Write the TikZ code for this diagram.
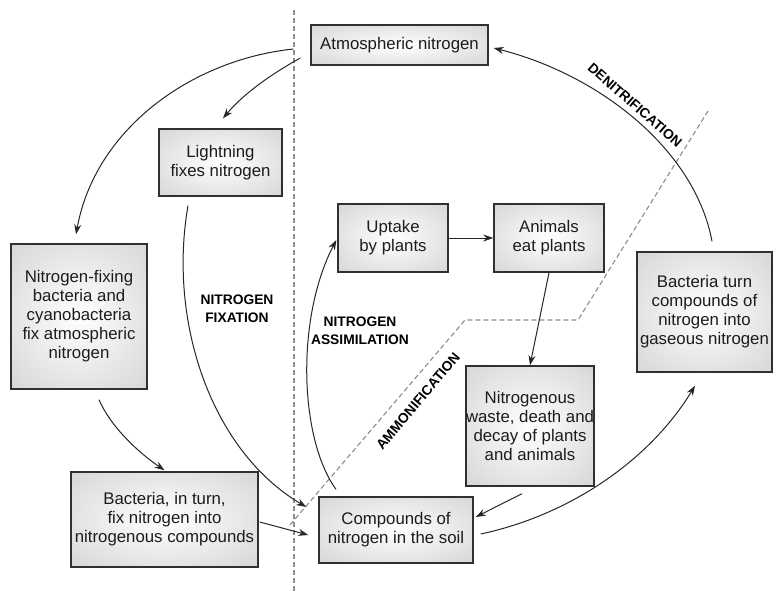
\documentclass[tikz,border=0pt]{standalone}
\usepackage{fontspec}
\setmainfont{Liberation Sans}
\usetikzlibrary{arrows.meta}
\definecolor{boxline}{HTML}{303030}
\definecolor{boxtext}{HTML}{1C1C1C}
\definecolor{shadeedge}{HTML}{C6C6C6}
\definecolor{shadecorner}{HTML}{B2B2B2}
\definecolor{sepgray}{HTML}{8C8C8C}
% soft radial fill for the boxes: white centre fading to grey at the rim
\pgfdeclareradialshading{boxshade}{\pgfpoint{0bp}{0bp}}{%
  color(0bp)=(white); color(50bp)=(shadeedge); color(71bp)=(shadecorner)}
\begin{document}
\begin{tikzpicture}[x=1pt,y=-1pt,
  box/.style={draw=boxline, line width=1.4pt, shading=boxshade,
    inner sep=0pt, align=center, text=boxtext,
    font=\fontsize{16.8}{19}\selectfont},
  arr/.style={line width=1pt, draw=black!85, -{Stealth[length=10pt,width=7pt]}},
  phase/.style={font=\bfseries\fontsize{13.8}{18}\selectfont, text=black, align=center, inner sep=0pt},
  sep/.style={draw=sepgray, line width=1.1pt, dash pattern=on 5pt off 3pt}]
\useasboundingbox (0,0) rectangle (774,591);

% separators
\draw[sep] (294,10) -- (294,591);
\draw[sep] (290,525) -- (465,320) -- (578,320) -- (708,111);

% boxes
\node[box, minimum width=177pt, minimum height=40pt] (atm) at (399.5,45) {Atmospheric nitrogen};
\node[box, minimum width=123pt, minimum height=67pt] (light) at (220.5,162.5) {Lightning\\fixes nitrogen};
\node[box, minimum width=136pt, minimum height=145pt] (nfix) at (79,316.5) {Nitrogen-fixing\\bacteria and\\cyanobacteria\\fix atmospheric\\nitrogen};
\node[box, minimum width=187pt, minimum height=95pt] (bact) at (164.5,519.5) {Bacteria, in turn,\\fix nitrogen into\\nitrogenous compounds};
\node[box, minimum width=154pt, minimum height=66pt] (comp) at (396,530) {Compounds of\\nitrogen in the soil};
\node[box, minimum width=110pt, minimum height=68pt] (uptake) at (393,238) {Uptake\\by plants};
\node[box, minimum width=110pt, minimum height=68pt] (animals) at (549,238) {Animals\\eat plants};
\node[box, minimum width=126pt, minimum height=120pt] (waste) at (530,426) {Nitrogenous\\waste, death and\\decay of plants\\and animals};
\node[box, minimum width=135pt, minimum height=120pt] (gas) at (704.5,312) {Bacteria turn\\compounds of\\nitrogen into\\gaseous nitrogen};

% connectors
\draw[arr] ([shift={(-17,4)}]atm.west) .. controls (190,60) and (95,130) .. ([shift={(-3,-9)}]nfix.north);
\draw[arr] ([shift={(-10,13)}]atm.west) .. controls (275,72) and (245,92) .. ([shift={(2.5,-10)}]light.north);
\draw[arr] ([shift={(-32.5,9)}]light.south) .. controls (168,320) and (210,450) .. ([shift={(-12,-23)}]comp.west);
\draw[arr] ([shift={(20,10)}]nfix.south) .. controls (110,425) and (135,450) .. ([shift={(0,-1)}]bact.north);
\draw[arr] ([shift={(1,2.5)}]bact.east) -- ([shift={(-10,5)}]comp.west);
\draw[arr] ([shift={(-60,-7)}]comp.north) .. controls (300,440) and (295,320) .. ([shift={(-1,2)}]uptake.west);
\draw[arr] (uptake.east) -- (animals.west);
\draw[arr] (animals.south) -- (waste.north);
\draw[arr] ([shift={(-8,7)}]waste.south) -- ([shift={(2,-13)}]comp.east);
\draw[arr] ([shift={(7,4)}]comp.east) .. controls (570,515) and (650,460) .. ([shift={(-9.5,13)}]gas.south);
\draw[arr] ([shift={(7.5,-10)}]gas.north) .. controls (695,150) and (600,75) .. ([shift={(5,3)}]atm.east);

% process labels
\node[phase] (fixation) at (237,309) {NITROGEN\\FIXATION};
\node[phase] (assim) at (360,331) {NITROGEN\\ASSIMILATION};
\node[phase, rotate=50] (ammon) at (418,401) {AMMONIFICATION};
\node[phase, rotate=-41] (denit) at (635,105) {DENITRIFICATION};
\end{tikzpicture}
\end{document}
